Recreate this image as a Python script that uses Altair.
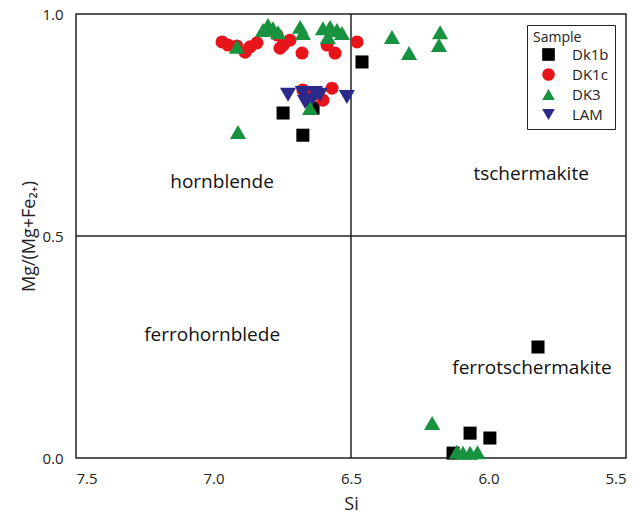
import altair as alt
import pandas as pd

# Sample data
dk1b_si = [6.46, 6.747, 6.675, 6.638, 5.82, 6.067, 5.995, 6.129]
dk1b_mg = [0.892, 0.777, 0.727, 0.788, 0.25, 0.056, 0.045, 0.011]

dk1c_si = [6.969, 6.947, 6.915, 6.885, 6.867, 6.842, 6.769, 6.758, 6.747, 6.722,
           6.678, 6.587, 6.558, 6.478, 6.675, 6.569, 6.602, 6.642]
dk1c_mg = [0.937, 0.930, 0.928, 0.914, 0.926, 0.935, 0.953, 0.923, 0.930, 0.941,
           0.912, 0.930, 0.912, 0.937, 0.829, 0.833, 0.806, 0.818]

lam_si = [6.729, 6.675, 6.631, 6.613, 6.515, 6.667, 6.642]
lam_mg = [0.818, 0.822, 0.822, 0.818, 0.813, 0.802, 0.806]

dk3_si = [6.802, 6.82, 6.784, 6.765, 6.685, 6.675, 6.602, 6.576, 6.551, 6.533,
          6.584, 6.915, 6.351, 6.289, 6.176, 6.18, 6.911, 6.649,
          6.205, 6.115, 6.093, 6.067, 6.04]
dk3_mg = [0.975, 0.964, 0.968, 0.959, 0.971, 0.957, 0.968, 0.971, 0.964, 0.957,
          0.948, 0.926, 0.948, 0.912, 0.959, 0.930, 0.734, 0.788,
          0.079, 0.014, 0.012, 0.012, 0.013]

samples = ["Dk1b", "DK1c", "DK3", "LAM"]
colors = ["#000000", "#e8141c", "#17933f", "#2b2a8a"]
shapes = ["square", "circle", "triangle-up", "triangle-down"]

# Region labels
region_names = ["hornblende", "tschermakite", "ferrohornblede", "ferrotschermakite"]
region_si = [6.969, 5.845, 7.005, 5.842]
region_mg = [0.622, 0.64, 0.277, 0.203]

x_ticks = [7.5, 7.0, 6.5, 6.0, 5.5]
y_ticks = [0.0, 0.5, 1.0]

rows = []
for name, xs, ys in [("Dk1b", dk1b_si, dk1b_mg), ("DK1c", dk1c_si, dk1c_mg),
                     ("LAM", lam_si, lam_mg), ("DK3", dk3_si, dk3_mg)]:
    for a, b in zip(xs, ys):
        rows.append({"Si": a, "Mg": b, "Sample": name})
df = pd.DataFrame(rows)

FONT = "Open Sans"

x_scale = alt.Scale(domain=[5.5, 7.5], reverse=True, nice=False, zero=False)
y_scale = alt.Scale(domain=[0, 1], nice=False)

points = alt.Chart(df).mark_point(filled=True, opacity=1).encode(
    x=alt.X("Si:Q", scale=x_scale,
            axis=alt.Axis(values=x_ticks, format=".1f", title="Si", grid=False,
                          ticks=False, tickSize=0, domain=False,
                          labelPadding=13, labelFontSize=15, labelColor="#222",
                          labelFont=FONT, titleFont=FONT, titleFontSize=18,
                          titleFontWeight="normal", titleColor="#222",
                          titlePadding=9)),
    y=alt.Y("Mg:Q", scale=y_scale,
            axis=alt.Axis(values=y_ticks, format=".1f", title="Mg/(Mg+Fe₂₊)",
                          grid=False, ticks=False, tickSize=0, domain=False,
                          labelPadding=13, labelFontSize=15, labelColor="#222",
                          labelFont=FONT, titleFont=FONT, titleFontSize=18,
                          titleFontWeight="normal", titleColor="#222",
                          titlePadding=3)),
    color=alt.Color("Sample:N", scale=alt.Scale(domain=samples, range=colors),
                    legend=alt.Legend(title="Sample", orient="none",
                                      legendX=451, legendY=11,
                                      strokeColor="#222", fillColor="white",
                                      padding=6, titleFontSize=14,
                                      titleFontWeight="normal", titleFont=FONT,
                                      labelFont=FONT, labelFontSize=15,
                                      labelColor="#222", titleColor="#222",
                                      symbolSize=160, symbolOffset=8,
                                      labelOffset=16, rowPadding=4,
                                      titlePadding=2)),
    shape=alt.Shape("Sample:N", scale=alt.Scale(domain=samples, range=shapes)),
    size=alt.Size("sz:Q", scale=None),
    order=alt.Order("idx:Q"),
).transform_calculate(
    idx="indexof(['Dk1b','DK1c','LAM','DK3'], datum.Sample)",
    sz="datum.Sample == 'DK3' || datum.Sample == 'LAM' ? 260 : 170",
)

vline = alt.Chart(pd.DataFrame({"Si": [6.5]})).mark_rule(
    color="#222", strokeWidth=1.5).encode(x=alt.X("Si:Q", scale=x_scale))
hline = alt.Chart(pd.DataFrame({"Mg": [0.5]})).mark_rule(
    color="#222", strokeWidth=1.5).encode(y=alt.Y("Mg:Q", scale=y_scale))

labels = alt.Chart(pd.DataFrame({"name": region_names, "Si": region_si,
                                 "Mg": region_mg})).mark_text(
    font=FONT, fontSize=19, color="#111", align="center", baseline="middle"
).encode(x=alt.X("Si:Q", scale=x_scale), y=alt.Y("Mg:Q", scale=y_scale),
         text="name:N")

chart = alt.layer(vline, hline, labels, points).properties(
    width=550, height=444,
    autosize=alt.AutoSizeParams(type="none"),
    padding={"left": 76, "top": 14, "right": 9, "bottom": 62},
    background="white",
).configure_view(stroke="#222", strokeWidth=1.5)

chart.save("out.html", embed_options={"renderer": "svg", "actions": False})
